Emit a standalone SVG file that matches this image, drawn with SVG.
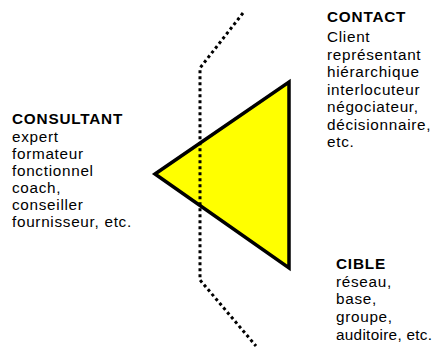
<svg xmlns="http://www.w3.org/2000/svg" width="437" height="351" viewBox="0 0 437 351">
<style>
.t{font-family:"Liberation Sans",Arial,sans-serif;font-size:15.3px;letter-spacing:0.7px;fill:#000}
.h{font-weight:bold;letter-spacing:0.8px}
</style>
<rect width="437" height="351" fill="#fff"/>
<g id="triangle">
<polygon points="155,174 289,82 289,268" fill="#ffff00" stroke="#000" stroke-width="3.5" stroke-linejoin="miter"/>
</g>
<g id="connectors">
<polyline points="243,13 200,68 200,280 256,346" fill="none" stroke="#000" stroke-width="3" stroke-dasharray="3 3"/>
</g>
<g id="consultant">
<text class="t"><tspan class="h" x="12" y="124">CONSULTANT</tspan><tspan x="12" y="142">expert</tspan><tspan x="12" y="159">formateur</tspan><tspan x="12" y="176">fonctionnel</tspan><tspan x="12" y="193">coach,</tspan><tspan x="12" y="210">conseiller</tspan><tspan x="12" y="227">fournisseur, etc.</tspan></text>
</g>
<g id="contact">
<text class="t"><tspan class="h" x="327" y="22">CONTACT</tspan><tspan x="327" y="42">Client</tspan><tspan x="327" y="60">représentant</tspan><tspan x="327" y="77">hiérarchique</tspan><tspan x="327" y="95">interlocuteur</tspan><tspan x="327" y="112">négociateur,</tspan><tspan x="327" y="130">décisionnaire,</tspan><tspan x="327" y="147">etc.</tspan></text>
</g>
<g id="cible">
<text class="t"><tspan class="h" x="336" y="269">CIBLE</tspan><tspan x="336" y="287">réseau,</tspan><tspan x="336" y="304">base,</tspan><tspan x="336" y="322">groupe,</tspan><tspan x="336" y="340" style="letter-spacing:0.3px">auditoire, etc.</tspan></text>
</g>
</svg>
